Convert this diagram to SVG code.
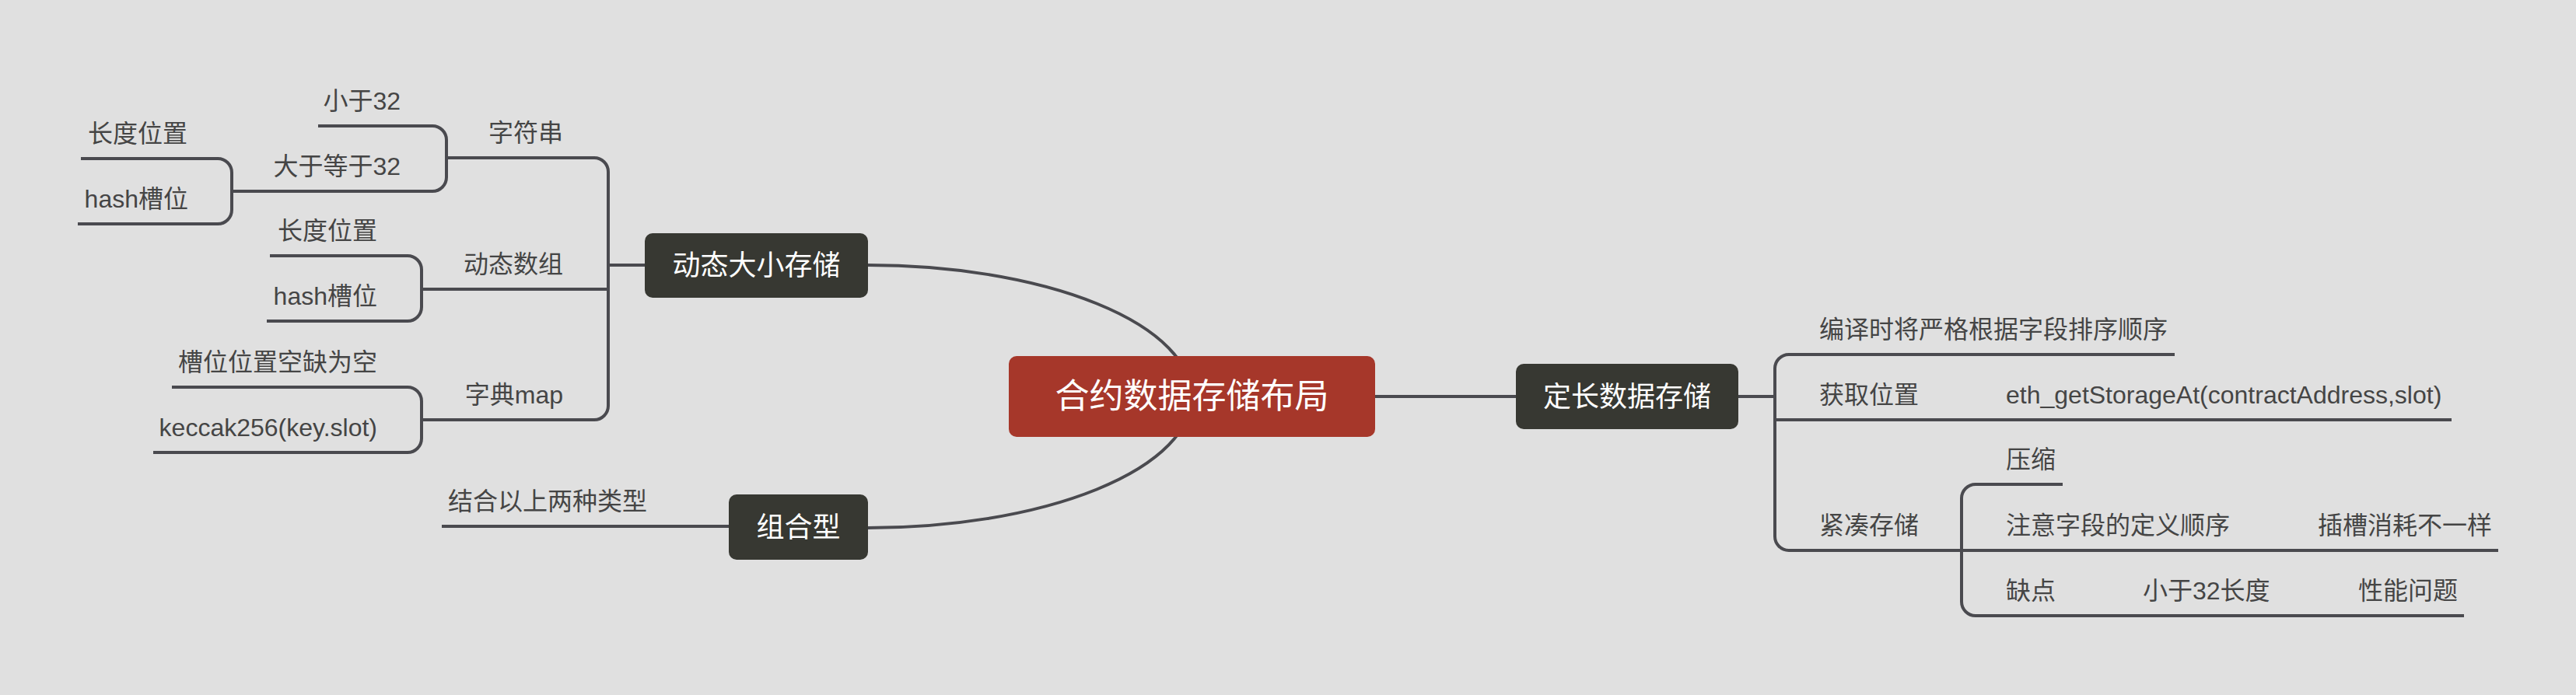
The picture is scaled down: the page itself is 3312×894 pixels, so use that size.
<svg xmlns="http://www.w3.org/2000/svg" width="3312" height="894" viewBox="0 0 3312 894">
<style>
.bg{fill:#e0e0e0}
.c{fill:none;stroke:#4a4a4f;stroke-width:4;stroke-linecap:butt}
.t{font-family:"Liberation Sans","Noto Sans CJK SC",sans-serif;font-size:32px;fill:#454545}
.e{text-anchor:end}
.n{font-family:"Liberation Sans","Noto Sans CJK SC",sans-serif;font-size:36px;fill:#ffffff;text-anchor:middle}
.dark{fill:#373832}
.root{fill:#a6372a}
</style>
<rect class="bg" x="0" y="0" width="3312" height="894"/>
<g id="connectors">
<path class="c" d="M1116,341 A416,169 0 0 1 1532,510 A416,169 0 0 1 1116,679"/>
<path class="c" d="M1768,510 H1949"/>
<path class="c" d="M782,341 H829"/>
<path class="c" d="M764,203 A18,18 0 0 1 782,221 V522 A18,18 0 0 1 764,540"/>
<path class="c" d="M574,203 H764"/>
<path class="c" d="M542,372 H782"/>
<path class="c" d="M542,540 H764"/>
<path class="c" d="M556,162 A18,18 0 0 1 574,180 V228 A18,18 0 0 1 556,246"/>
<path class="c" d="M409,162 H556"/>
<path class="c" d="M298,246 H556"/>
<path class="c" d="M280,204 A18,18 0 0 1 298,222 V270 A18,18 0 0 1 280,288"/>
<path class="c" d="M104,204 H280"/>
<path class="c" d="M100,288 H280"/>
<path class="c" d="M524,329 A18,18 0 0 1 542,347 V395 A18,18 0 0 1 524,413"/>
<path class="c" d="M347,329 H524"/>
<path class="c" d="M343,413 H524"/>
<path class="c" d="M524,498 A18,18 0 0 1 542,516 V564 A18,18 0 0 1 524,582"/>
<path class="c" d="M221,498 H524"/>
<path class="c" d="M197,582 H524"/>
<path class="c" d="M568,677 H937"/>
<path class="c" d="M2235,510 H2282"/>
<path class="c" d="M2300,456 A18,18 0 0 0 2282,474 V690 A18,18 0 0 0 2300,708"/>
<path class="c" d="M2300,456 H2796"/>
<path class="c" d="M2282,540 H3152"/>
<path class="c" d="M2300,708 H2522"/>
<path class="c" d="M2540,623 A18,18 0 0 0 2522,641 V774 A18,18 0 0 0 2540,792"/>
<path class="c" d="M2540,623 H2652"/>
<path class="c" d="M2522,708 H3212"/>
<path class="c" d="M2540,792 H3168"/>
</g>
<g id="root">
<rect class="root" x="1297" y="458" width="471" height="104" rx="10"/>
<text class="n" x="1532.5" y="525" style="font-size:44px">合约数据存储布局</text>
</g>
<g id="dynamic">
<rect class="dark" x="829" y="300" width="287" height="83" rx="10"/>
<text class="n" x="972.5" y="354">动态大小存储</text>
</g>
<g id="combo">
<rect class="dark" x="937" y="636" width="179" height="84" rx="10"/>
<text class="n" x="1026.5" y="691">组合型</text>
</g>
<g id="fixed">
<rect class="dark" x="1949" y="468" width="286" height="84" rx="10"/>
<text class="n" x="2092" y="523">定长数据存储</text>
</g>
<g id="string"><text class="t e" x="724" y="182">字符串</text></g>
<g id="lt32"><text class="t e" x="515" y="141">小于32</text></g>
<g id="ge32"><text class="t e" x="515" y="225">大于等于32</text></g>
<g id="ge32-len"><text class="t e" x="241" y="183">长度位置</text></g>
<g id="ge32-hash"><text class="t e" x="242" y="267">hash槽位</text></g>
<g id="array"><text class="t e" x="724" y="351">动态数组</text></g>
<g id="array-len"><text class="t e" x="485" y="308">长度位置</text></g>
<g id="array-hash"><text class="t e" x="485" y="392">hash槽位</text></g>
<g id="map"><text class="t e" x="724" y="519">字典map</text></g>
<g id="map-empty"><text class="t e" x="485" y="477">槽位位置空缺为空</text></g>
<g id="map-keccak"><text class="t e" x="485" y="561">keccak256(key.slot)</text></g>
<g id="combo-desc"><text class="t e" x="832" y="656">结合以上两种类型</text></g>
<g id="compile"><text class="t" x="2339" y="435">编译时将严格根据字段排序顺序</text></g>
<g id="getpos"><text class="t" x="2339" y="519">获取位置</text></g>
<g id="eth"><text class="t" x="2579" y="519">eth_getStorageAt(contractAddress,slot)</text></g>
<g id="compact"><text class="t" x="2339" y="687">紧凑存储</text></g>
<g id="compress"><text class="t" x="2579" y="602">压缩</text></g>
<g id="order"><text class="t" x="2579" y="687">注意字段的定义顺序</text></g>
<g id="slotcost"><text class="t" x="2980" y="687">插槽消耗不一样</text></g>
<g id="cons"><text class="t" x="2579" y="771">缺点</text></g>
<g id="lt32len"><text class="t" x="2755" y="771">小于32长度</text></g>
<g id="perf"><text class="t" x="3032" y="771">性能问题</text></g>
</svg>
